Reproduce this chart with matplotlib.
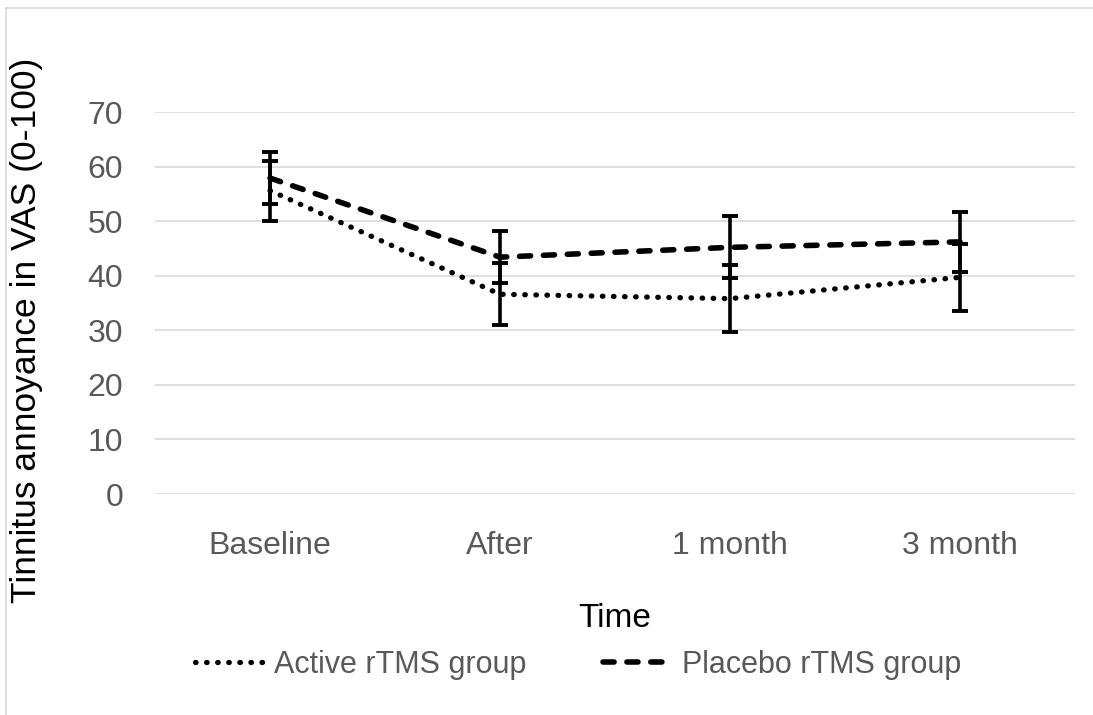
import matplotlib
matplotlib.use("Agg")
import matplotlib.pyplot as plt
from matplotlib.lines import Line2D

categories = ["Baseline", "After", "1 month", "3 month"]
active_mean = [55.6, 36.6, 35.8, 39.7]
active_err = [5.5, 5.7, 6.2, 6.1]
placebo_mean = [57.9, 43.4, 45.2, 46.2]
placebo_err = [4.8, 4.8, 5.7, 5.5]
yticks = [0, 10, 20, 30, 40, 50, 60, 70]

plt.rcParams['font.family'] = ['Liberation Sans', 'DejaVu Sans']

fig = plt.figure(figsize=(10.93, 7.15), dpi=100)
ax = fig.add_axes([155/1093, 1-494/715, 920/1093, 382/715])

x = list(range(len(categories)))
gray = "#595959"

ax.plot(x, active_mean, color="black", lw=3.8, linestyle=(0, (0.1, 2.0)),
        dash_capstyle="round", label="Active rTMS group", zorder=3)
ax.plot(x, placebo_mean, color="black", lw=4.0, linestyle=(0, (2.0, 2.3)),
        dash_capstyle="round", label="Placebo rTMS group", zorder=3)
ax.errorbar(x, active_mean, yerr=active_err, fmt="none", ecolor="black",
            elinewidth=2.6, capsize=5.5, capthick=2.8, zorder=4)
ax.errorbar(x, placebo_mean, yerr=placebo_err, fmt="none", ecolor="black",
            elinewidth=2.6, capsize=5.5, capthick=2.8, zorder=4)

ax.set_xlim(-0.5, len(categories) - 0.5)
ax.set_ylim(0, 70)
ax.set_yticks(yticks)
ax.set_xticks(x)
ax.set_xticklabels(categories)
ax.yaxis.grid(True, color="#d9d9d9", lw=1.2)
ax.set_axisbelow(True)
for s in ax.spines.values():
    s.set_visible(False)
ax.tick_params(axis="both", length=0, labelsize=23, colors=gray)
ax.tick_params(axis="x", pad=27)
ax.tick_params(axis="y", pad=23)

ax.set_xlabel("Time", fontsize=24, color="black", labelpad=30)
ylab = ax.set_ylabel("Tinnitus annoyance in VAS (0-100)", fontsize=25.5, color="black")
ylab.set_verticalalignment("center")
ax.yaxis.set_label_coords((27-155)/920, (494-330)/382)

leg = fig.legend(loc="center", bbox_to_anchor=(578/1093, 1-665/715), ncol=2,
                 frameon=False, fontsize=22, handlelength=2.2, handletextpad=0.4,
                 columnspacing=2.5)
for t in leg.get_texts():
    t.set_color(gray)

fig.add_artist(Line2D([6/1093, 6/1093], [0, 1-8/715], transform=fig.transFigure,
                      color="#d9d9d9", lw=1.2))
fig.add_artist(Line2D([6/1093, 1], [1-8/715, 1-8/715], transform=fig.transFigure,
                      color="#d9d9d9", lw=1.2))

fig.savefig("out.png", dpi=100, facecolor="white")
